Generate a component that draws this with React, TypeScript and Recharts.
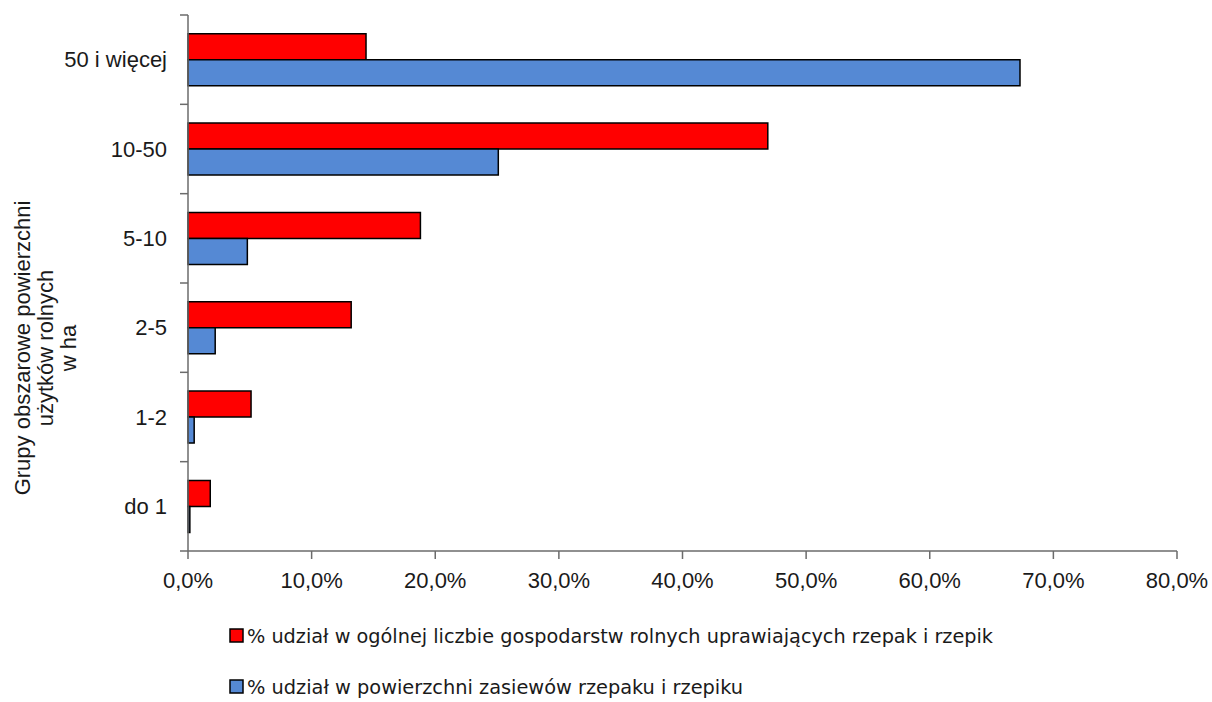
import React from 'react';
import { BarChart, Bar, XAxis, YAxis, Legend } from 'recharts';

const categories = ['50 i więcej', '10-50', '5-10', '2-5', '1-2', 'do 1'];
const farmsShare = [14.4, 46.9, 18.8, 13.2, 5.1, 1.8];
const areaShare = [67.3, 25.1, 4.8, 2.2, 0.5, 0.15];
const xTicks = [0, 10, 20, 30, 40, 50, 60, 70, 80];
const axisTitleLines = ['Grupy obszarowe powierzchni', 'użytków rolnych', 'w ha'];
const seriesNames = [
  '% udział w ogólnej liczbie gospodarstw rolnych uprawiających rzepak i rzepik',
  '% udział w powierzchni zasiewów rzepaku i rzepiku',
];

const RED = '#ff0000';
const BLUE = '#5589d4';
const AXIS = '#6b6b6b';
const FONT = "'Liberation Sans', Arial, sans-serif";
const LEGEND_FONT = "'Liberation Sans Narrow', 'DejaVu Sans Condensed', sans-serif";

const data = categories.map((name, i) => ({
  name,
  farms: farmsShare[i],
  area: areaShare[i],
}));

const formatPct = (v: number) => `${v.toFixed(1).replace('.', ',')}%`;

// category ticks sit between the bands, like in Excel
const CategoryTick = (props: any) => {
  const { x, y, payload, index, visibleTicksCount } = props;
  const half = payload?.offset || 44.7;
  const lx1 = x + 13;
  const lx2 = x + 21;
  return (
    <g>
      <line x1={lx1} x2={lx2} y1={y - half} y2={y - half} stroke={AXIS} strokeWidth={1.5} />
      {index === visibleTicksCount - 1 && (
        <line x1={lx1} x2={lx2} y1={y + half} y2={y + half} stroke={AXIS} strokeWidth={1.5} />
      )}
      <text x={x} y={y} textAnchor="end" dominantBaseline="central" fontSize={22} fontFamily={FONT} fill="#1a1a1a">
        {payload.value}
      </text>
    </g>
  );
};

const AxisTitle = () => (
  <text
    transform="translate(45, 348) rotate(-90)"
    textAnchor="middle"
    fontSize={22}
    fontFamily={FONT}
    fill="#1a1a1a"
  >
    {axisTitleLines.map((line, i) => (
      <tspan key={line} x={0} y={(i - 1) * 23} dominantBaseline="central">
        {line}
      </tspan>
    ))}
  </text>
);

const LegendBox = () => {
  const colors = [RED, BLUE];
  const widths = [746, 496];
  return (
    <svg width={1212} height={100} style={{ display: 'block' }}>
      {seriesNames.map((name, i) => (
        <g key={name} transform={`translate(230, ${42 + i * 51})`}>
          <rect x={0} y={-14} width={13} height={13} fill={colors[i]} stroke="#000" strokeWidth={1.5} />
          <text
            x={17}
            y={0}
            fontSize={20}
            fontFamily={LEGEND_FONT}
            fill="#1a1a1a"
            textLength={widths[i]}
            lengthAdjust="spacingAndGlyphs"
          >
            {name}
          </text>
        </g>
      ))}
    </svg>
  );
};

export default function App() {
  return (
    <div style={{ position: 'absolute', left: 0, top: 0, width: 1212, height: 702, background: '#fff' }}>
      <BarChart
        width={1212}
        height={702}
        data={data}
        layout="vertical"
        margin={{ top: 15, right: 35, left: 78, bottom: 0 }}
        barCategoryGap="21%"
        barGap={0}
      >
        <XAxis
          type="number"
          domain={[0, 80]}
          ticks={xTicks}
          tickFormatter={formatPct}
          interval={0}
          height={50}
          tickSize={8}
          tickMargin={13}
          axisLine={{ stroke: AXIS, strokeWidth: 1.5 }}
          tickLine={{ stroke: AXIS, strokeWidth: 1.5 }}
          tick={{ fontSize: 22, fontFamily: FONT, fill: '#1a1a1a' }}
        />
        <YAxis
          type="category"
          dataKey="name"
          width={110}
          tickSize={8}
          tickMargin={13}
          tickLine={false}
          axisLine={{ stroke: AXIS, strokeWidth: 1.5 }}
          tick={<CategoryTick />}
          interval={0}
          label={{ content: () => <AxisTitle /> }}
        />
        <Legend
          verticalAlign="bottom"
          height={101}
          wrapperStyle={{ left: 0, width: 1212 }}
          content={() => <LegendBox />}
        />
        <Bar dataKey="farms" fill={RED} stroke="#000" strokeWidth={1.5} isAnimationActive={false} />
        <Bar dataKey="area" fill={BLUE} stroke="#000" strokeWidth={1.5} isAnimationActive={false} />
      </BarChart>
    </div>
  );
}
